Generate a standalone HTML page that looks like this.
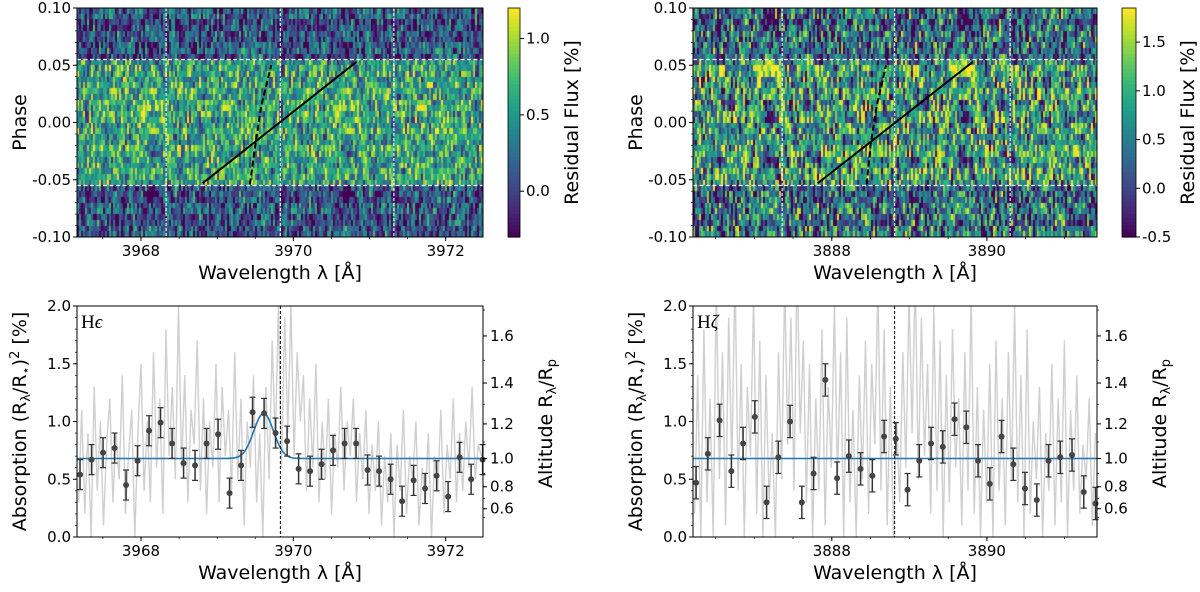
<!DOCTYPE html>
<html><head><meta charset="utf-8"><style>
html,body{margin:0;padding:0;background:#fff;}
#wrap{position:relative;width:1200px;height:592px;overflow:hidden;font-family:"DejaVu Sans","Liberation Sans",sans-serif;}
canvas{position:absolute;}
svg{position:absolute;left:0;top:0;}
</style></head><body>
<div id="wrap">
<canvas id="hmL" style="left:77px;top:8px" width="406" height="229"></canvas>
<canvas id="hmR" style="left:693px;top:8px" width="404" height="229"></canvas>
<svg id="svg" width="1200" height="592"></svg>
</div>
<script>
// ---------- data ----------
const lamRangeL = [3967.16, 3972.49];
const lamRangeR = [3886.21, 3891.42];
const phaseRange = [-0.10, 0.10];
const transitPhase = [-0.055, 0.055];
const cbarRangeL = [-0.3, 1.2];
const cbarRangeR = [-0.5, 1.85];
const cbarTicksL = [0.0, 0.5, 1.0];
const cbarTicksR = [-0.5, 0.0, 0.5, 1.0, 1.5];
const xTicksL = [3968, 3970, 3972];
const xTicksR = [3888, 3890];
const phaseTicks = [-0.10, -0.05, 0.00, 0.05, 0.10];
const phaseTickLabels = ["-0.10", "-0.05", "0.00", "0.05", "0.10"];
const absTicks = [0.0, 0.5, 1.0, 1.5, 2.0];
const altTicks = [0.6, 0.8, 1.0, 1.2, 1.4, 1.6];
const altRef = 0.68;
const vlinesL = [3968.33, 3969.83, 3971.32];
const vlinesR = [3887.36, 3888.81, 3890.30];
const solidLineL = [[3968.81, -0.053], [3970.83, 0.053]];
const dashLineL = [[3969.43, -0.054], [3969.50, -0.02], [3969.58, 0.015], [3969.71, 0.050]];
const solidLineR = [[3887.82, -0.053], [3889.82, 0.053]];
const dashLineR = [[3888.45, -0.054], [3888.50, -0.02], [3888.58, 0.015], [3888.70, 0.050]];
const rowMeanInL = 0.55, rowMeanOutL = 0.08, ampInL = 0.55, ampOutL = 0.55;
const rowMeanInR = 0.70, rowMeanOutR = 0.25, ampInR = 1.2, ampOutR = 1.15;
const noiseDigits = "73918264053719284610582937461029384756102938475619283746510293847561928374650192837465019283746519";
const noiseDigits2 = "4829105736281940573628194057362819405738261904857362091847365029184736502918473650291847365029184";
const binLamStartL = 3967.20, binStepL = 0.151;
const binValsL = [0.54,0.67,0.73,0.77,0.45,0.66,0.92,0.99,0.81,0.64,0.62,0.81,0.89,0.38,0.62,1.08,1.07,0.90,0.83,0.59,0.57,0.63,0.75,0.81,0.81,0.58,0.57,0.50,0.31,0.49,0.42,0.53,0.35,0.69,0.50,0.67];
const binErrL = 0.13;
const binLamStartR = 3886.25, binStepR = 0.1515;
const binValsR = [0.47,0.72,1.01,0.57,0.81,1.04,0.30,0.69,1.00,0.30,0.55,1.36,0.51,0.70,0.59,0.53,0.87,0.85,0.41,0.66,0.81,0.78,1.02,0.95,0.66,0.46,0.87,0.63,0.42,0.32,0.66,0.69,0.71,0.39,0.29];
const binErrR = 0.14;
const gaussL = {center:3969.61, amp:0.39, sigma:0.13, base:0.68};
const gaussR = {center:3888.81, amp:0.0, sigma:0.13, base:0.68};
const specL = [0.3,1.1,0.2,0.9,0.0,1.3,0.4,1.0,0.1,0.8,1.2,0.3,0.9,0.5,1.4,0.2,0.7,1.1,0.0,0.9,
1.5,0.4,1.0,0.3,1.6,0.6,1.2,0.2,1.8,0.7,1.3,0.5,2.0,0.6,1.4,0.3,1.1,0.8,1.7,0.4,
1.2,0.2,1.0,0.6,1.5,0.3,1.3,0.7,1.1,0.4,1.6,0.5,1.2,0.1,1.0,0.6,1.4,0.3,0.9,0.0,
1.3,0.5,1.7,0.8,2.0,0.6,1.9,0.9,2.0,0.7,1.6,1.0,1.4,0.4,1.2,0.6,1.5,0.3,1.0,0.5,
1.2,0.2,0.9,0.6,1.3,0.4,1.0,0.7,1.2,0.3,0.9,0.5,1.1,0.2,0.8,0.4,1.0,0.1,0.7,0.3,
0.9,0.0,0.8,0.4,1.1,0.2,0.7,0.5,1.0,0.1,0.6,0.3,0.9,0.0,0.7,0.4,1.1,0.2,0.8,0.5,
1.2,0.3,0.9,0.4,1.0,0.6,1.3,0.5,0.8,0.7];
const specR = [0.2,1.4,0.0,1.8,0.3,1.2,0.0,2.2,0.5,1.6,0.1,1.9,0.6,2.3,0.4,1.5,0.0,1.3,0.7,2.1,
0.2,1.7,0.0,1.4,0.3,0.9,0.0,1.6,0.5,2.2,0.8,1.9,0.4,2.4,0.9,1.7,0.3,1.5,0.0,1.2,
0.4,1.8,0.1,1.3,0.6,2.0,0.5,1.6,0.0,1.9,0.3,1.1,0.0,1.4,0.5,1.7,0.2,1.5,0.8,2.2,
0.4,1.8,0.1,1.3,0.0,1.0,0.3,1.6,0.6,2.1,0.9,2.3,0.5,1.9,0.7,1.5,0.2,2.0,0.4,1.7,
0.0,1.4,0.3,1.8,0.6,1.2,0.1,1.6,0.4,2.1,0.2,1.3,0.0,1.1,0.3,1.5,0.0,1.7,0.4,1.2,
0.1,1.6,0.5,2.0,0.3,1.4,0.0,1.8,0.2,1.0,0.5,1.3,0.0,0.9,0.4,1.5,0.1,1.2,0.3,1.7,
0.0,1.1,0.4,1.4,0.2,0.8,0.5,1.2,0.1,0.9];

// ---------- helpers ----------
const NS = "http://www.w3.org/2000/svg";
const svg = document.getElementById('svg');
function el(tag, attrs, parent) {
  const e = document.createElementNS(NS, tag);
  for (const k in attrs) e.setAttribute(k, attrs[k]);
  (parent || svg).appendChild(e);
  return e;
}
const VIR = [[68,1,84],[72,40,120],[62,74,137],[49,104,142],[38,130,142],[31,158,137],[53,183,121],[109,205,89],[180,222,44],[253,231,37]];
function viridis(t) {
  t = Math.max(0, Math.min(1, t));
  const p = t * (VIR.length - 1), i = Math.min(VIR.length - 2, Math.floor(p)), f = p - i;
  const a = VIR[i], b = VIR[i + 1];
  return `rgb(${Math.round(a[0]+(b[0]-a[0])*f)},${Math.round(a[1]+(b[1]-a[1])*f)},${Math.round(a[2]+(b[2]-a[2])*f)})`;
}
function lin(d0, d1, r0, r1) { return v => r0 + (v - d0) / (d1 - d0) * (r1 - r0); }

function heatmap(canvasId, lamRange, cRange, meanIn, meanOut, ampIn, ampOut, seed) {
  const c = document.getElementById(canvasId), ctx = c.getContext('2d');
  const W = c.width, H = c.height, rows = 40, cols = Math.round(W / 2);
  const L1 = noiseDigits.length, L2 = noiseDigits2.length;
  for (let r = 0; r < rows; r++) {
    const ph = phaseRange[1] - (r + 0.5) / rows * (phaseRange[1] - phaseRange[0]);
    const inT = ph > transitPhase[0] && ph < transitPhase[1];
    const m = inT ? meanIn : meanOut, a = inT ? ampIn : ampOut;
    const y0 = Math.round(r / rows * H), y1 = Math.round((r + 1) / rows * H);
    for (let k = 0; k < cols; k++) {
      const h1 = (k * k * 3 + r * r * 7 + k * r * 5 + k * 11 + r * 29 + seed) % L1;
      const h2 = (k * 13 + Math.floor(r / 2) * 17 + k * k * 5 + seed * 3) % L2;
      const d = ((parseInt(noiseDigits[h1]) + parseInt(noiseDigits2[h2])) - 9) / 9;
      const v = m + d * a * 1.3;
      ctx.fillStyle = viridis((v - cRange[0]) / (cRange[1] - cRange[0]));
      const x0 = Math.round(k / cols * W), x1 = Math.round((k + 1) / cols * W);
      ctx.fillRect(x0, y0, x1 - x0, y1 - y0);
    }
  }
}
heatmap('hmL', lamRangeL, cbarRangeL, rowMeanInL, rowMeanOutL, ampInL, ampOutL, 0);
heatmap('hmR', lamRangeR, cbarRangeR, rowMeanInR, rowMeanOutR, ampInR, ampOutR, 17);

function text(x, y, s, anchor, size, parent, extra) {
  const t = el('text', Object.assign({x: x, y: y, 'text-anchor': anchor || 'middle', 'font-size': size || 15, fill: '#000'}, extra || {}), parent);
  t.textContent = s;
  return t;
}

function topPanel(P) {
  const g = el('g', {});
  
  
  const xs = lin(P.lam[0], P.lam[1], P.x0, P.x1), ys = lin(phaseRange[0], phaseRange[1], P.y1, P.y0);
  P.vlines.forEach(l => {
    const ln = el('line', {x1: xs(l), x2: xs(l), y1: P.y0, y2: P.y1, stroke: '#fff', 'stroke-width': 1.2, 'stroke-dasharray': '3,2', opacity: 0.85}, g);
    
    
  });
  transitPhase.forEach(p => {
    const ln = el('line', {x1: P.x0, x2: P.x1, y1: ys(p), y2: ys(p), stroke: '#fff', 'stroke-width': 1.2, 'stroke-dasharray': '4,2.5'}, g);
    
    
  });
  const sl = el('polyline', {points: P.solid.map(p => xs(p[0]) + ',' + ys(p[1])).join(' '), stroke: '#000', 'stroke-width': 2, fill: 'none'}, g);
  
  
  const dl = el('polyline', {points: P.dash.map(p => xs(p[0]) + ',' + ys(p[1])).join(' '), stroke: '#000', 'stroke-width': 2, fill: 'none', 'stroke-dasharray': '6,3'}, g);
  
  
  el('rect', {x: P.x0, y: P.y0, width: P.x1 - P.x0, height: P.y1 - P.y0, fill: 'none', stroke: '#000', 'stroke-width': 1}, g);
  phaseTicks.forEach((p, i) => {
    el('line', {x1: P.x0 - 4, x2: P.x0, y1: ys(p), y2: ys(p), stroke: '#000'}, g);
    text(P.x0 - 6, ys(p) + 5, phaseTickLabels[i], 'end', 15, g);
  });
  for (let p = -0.09; p < 0.1; p += 0.01) el('line', {x1: P.x0 - 2, x2: P.x0, y1: ys(p), y2: ys(p), stroke: '#000', 'stroke-width': 0.7}, g);
  for (let l = Math.ceil(P.lam[0] * 2) / 2; l <= P.lam[1]; l += 0.5) el('line', {x1: xs(l), x2: xs(l), y1: P.y1, y2: P.y1 + 2, stroke: '#000', 'stroke-width': 0.7}, g);
  P.xticks.forEach(l => {
    el('line', {x1: xs(l), x2: xs(l), y1: P.y1, y2: P.y1 + 4, stroke: '#000'}, g);
    text(xs(l), P.y1 + 19, String(l), 'middle', 15, g);
  });
  const xl = text((P.x0 + P.x1) / 2, P.y1 + 42, 'Wavelength λ [Å]', 'middle', 19, g);
  
  
  const yl = text(0, 0, 'Phase', 'middle', 19, g, {transform: `translate(${P.x0 - 51},${(P.y0 + P.y1) / 2}) rotate(-90)`});
  
  
  const cb = el('g', {}, g);
  
  
  const cy = lin(P.cr[0], P.cr[1], P.y1, P.y0);
  const N = 60;
  for (let i = 0; i < N; i++) {
    el('rect', {x: P.cbx, y: P.y0 + (P.y1 - P.y0) * i / N, width: P.cbw, height: (P.y1 - P.y0) / N + 0.6, fill: viridis(1 - (i + 0.5) / N), stroke: 'none'}, cb);
  }
  el('rect', {x: P.cbx, y: P.y0, width: P.cbw, height: P.y1 - P.y0, fill: 'none', stroke: '#000', 'stroke-width': 0.8}, cb);
  P.cticks.forEach(v => {
    el('line', {x1: P.cbx + P.cbw, x2: P.cbx + P.cbw + 4, y1: cy(v), y2: cy(v), stroke: '#000'}, cb);
    text(P.cbx + P.cbw + 6, cy(v) + 5, v.toFixed(1), 'start', 15, cb);
  });
  const cl = text(0, 0, 'Residual Flux [%]', 'middle', 19, cb, {transform: `translate(${P.cbx + P.cbw + 58},${(P.y0 + P.y1) / 2}) rotate(-90)`});
  
  
}

topPanel({name: 'panel-h-epsilon-heatmap', x0: 77, x1: 483, y0: 8, y1: 237, lam: lamRangeL, vlines: vlinesL, solid: solidLineL, dash: dashLineL, xticks: xTicksL, cbx: 508, cbw: 12, cr: cbarRangeL, cticks: cbarTicksL});
topPanel({name: 'panel-h-zeta-heatmap', x0: 693, x1: 1097, y0: 8, y1: 237, lam: lamRangeR, vlines: vlinesR, solid: solidLineR, dash: dashLineR, xticks: xTicksR, cbx: 1122, cbw: 14, cr: cbarRangeR, cticks: cbarTicksR});

function bottomPanel(P) {
  const g = el('g', {});
  
  
  const xs = lin(P.lam[0], P.lam[1], P.x0, P.x1), ys = lin(0, 2, P.y1, P.y0);
  const cid = 'clip' + P.x0;
  const cp = el('clipPath', {id: cid}, g);
  el('rect', {x: P.x0, y: P.y0, width: P.x1 - P.x0, height: P.y1 - P.y0}, cp);
  const n = P.spec.length;
  const pts = P.spec.map((v, i) => xs(P.lam[0] + (i + 0.5) / n * (P.lam[1] - P.lam[0])).toFixed(1) + ',' + ys(v).toFixed(1)).join(' ');
  const sp = el('polyline', {points: pts, fill: 'none', stroke: '#cfcfcf', 'stroke-width': 1.4, 'clip-path': `url(#${cid})`}, g);
  
  
  const mp = [];
  for (let i = 0; i <= 300; i++) {
    const l = P.lam[0] + i / 300 * (P.lam[1] - P.lam[0]);
    const v = P.g.base + P.g.amp * Math.exp(-0.5 * Math.pow((l - P.g.center) / P.g.sigma, 2));
    mp.push(xs(l).toFixed(1) + ',' + ys(v).toFixed(1));
  }
  const ml = el('polyline', {points: mp.join(' '), fill: 'none', stroke: '#1f77b4', 'stroke-width': 1.6}, g);
  
  
  const dl = el('line', {x1: xs(P.center), x2: xs(P.center), y1: P.y0, y2: P.y1, stroke: '#000', 'stroke-width': 1, 'stroke-dasharray': '3,2'}, g);
  
  
  P.vals.forEach((v, i) => {
    const x = xs(P.start + i * P.step);
    const eb = el('g', {}, g);
    
    
    el('line', {x1: x, x2: x, y1: ys(v - P.err), y2: ys(v + P.err), stroke: '#333', 'stroke-width': 1.5}, eb);
    el('line', {x1: x - 3, x2: x + 3, y1: ys(v - P.err), y2: ys(v - P.err), stroke: '#333', 'stroke-width': 1.2}, eb);
    el('line', {x1: x - 3, x2: x + 3, y1: ys(v + P.err), y2: ys(v + P.err), stroke: '#333', 'stroke-width': 1.2}, eb);
    el('circle', {cx: x, cy: ys(v), r: 3, fill: '#444'}, eb);
  });
  el('rect', {x: P.x0, y: P.y0, width: P.x1 - P.x0, height: P.y1 - P.y0, fill: 'none', stroke: '#000', 'stroke-width': 1}, g);
  absTicks.forEach(v => {
    el('line', {x1: P.x0 - 4, x2: P.x0, y1: ys(v), y2: ys(v), stroke: '#000'}, g);
    text(P.x0 - 6, ys(v) + 5, v.toFixed(1), 'end', 15, g);
  });
  for (let v = 0.1; v < 2; v += 0.1) el('line', {x1: P.x0 - 2, x2: P.x0, y1: ys(v), y2: ys(v), stroke: '#000', 'stroke-width': 0.7}, g);
  const altY = a => ys(altRef * a * a);
  for (let a = 0.5; a <= 1.71; a += 0.1) el('line', {x1: P.x1, x2: P.x1 + 2, y1: altY(a), y2: altY(a), stroke: '#000', 'stroke-width': 0.7}, g);
  altTicks.forEach(a => {
    el('line', {x1: P.x1, x2: P.x1 + 4, y1: altY(a), y2: altY(a), stroke: '#000'}, g);
    text(P.x1 + 7, altY(a) + 5, a.toFixed(1), 'start', 15, g);
  });
  for (let l = Math.ceil(P.lam[0] * 2) / 2; l <= P.lam[1]; l += 0.5) el('line', {x1: xs(l), x2: xs(l), y1: P.y1, y2: P.y1 + 2, stroke: '#000', 'stroke-width': 0.7}, g);
  P.xticks.forEach(l => {
    el('line', {x1: xs(l), x2: xs(l), y1: P.y1, y2: P.y1 + 4, stroke: '#000'}, g);
    text(xs(l), P.y1 + 19, String(l), 'middle', 15, g);
  });
  const xl = text((P.x0 + P.x1) / 2, P.y1 + 42, 'Wavelength λ [Å]', 'middle', 19, g);
  
  
  const yl = el('text', {x: 0, y: 0, 'text-anchor': 'middle', 'font-size': 19, transform: `translate(${P.x0 - 51},${(P.y0 + P.y1) / 2}) rotate(-90)`}, g);
  yl.innerHTML = 'Absorption (R<tspan font-size="13" dy="4">λ</tspan><tspan dy="-4">/R</tspan><tspan font-size="13" dy="4">⋆</tspan><tspan dy="-4">)</tspan><tspan font-size="13" dy="-7">2</tspan><tspan dy="7"> [%]</tspan>';
  
  
  const rl = el('text', {x: 0, y: 0, 'text-anchor': 'middle', 'font-size': 19, transform: `translate(${P.x1 + 69},${(P.y0 + P.y1) / 2 + 2}) rotate(-90)`}, g);
  rl.innerHTML = 'Altitude R<tspan font-size="13" dy="4">λ</tspan><tspan dy="-4">/R</tspan><tspan font-size="13" dy="4">p</tspan>';
  
  
  const lab = el('text', {x: P.x0 + 4, y: P.y0 + 22, 'font-size': 19, 'font-family': '"Liberation Serif","DejaVu Serif",serif'}, g);
  lab.innerHTML = 'H<tspan font-style="italic">' + P.label + '</tspan>';
  
  
}

bottomPanel({name: 'panel-h-epsilon-spectrum', x0: 77, x1: 483, y0: 306, y1: 537, lam: lamRangeL, spec: specL, g: gaussL, center: 3969.83, vals: binValsL, start: binLamStartL, step: binStepL, err: binErrL, xticks: xTicksL, label: 'ϵ'});
bottomPanel({name: 'panel-h-zeta-spectrum', x0: 693, x1: 1097, y0: 306, y1: 537, lam: lamRangeR, spec: specR, g: gaussR, center: 3888.81, vals: binValsR, start: binLamStartR, step: binStepR, err: binErrR, xticks: xTicksR, label: 'ζ'});
</script>
</body></html>
